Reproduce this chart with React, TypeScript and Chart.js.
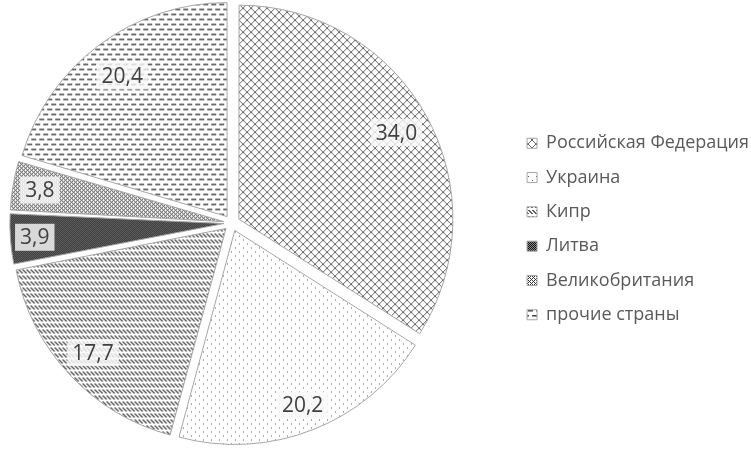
import React, { useEffect, useRef } from 'react';
import { Chart, registerables } from 'chart.js';

Chart.register(...registerables);

const categories = [
  'Российская Федерация',
  'Украина',
  'Кипр',
  'Литва',
  'Великобритания',
  'прочие страны',
];
const shares = [34.0, 20.2, 17.7, 3.9, 3.8, 20.4];

const labelRadius = [0.84, 0.875, 0.85, 0.886, 0.873, 0.82];

function makePattern(
  w: number,
  h: number,
  paint: (c: CanvasRenderingContext2D) => void,
  ground = '#ffffff'
): CanvasPattern {
  const cv = document.createElement('canvas');
  cv.width = w;
  cv.height = h;
  const c = cv.getContext('2d')!;
  c.fillStyle = ground;
  c.fillRect(0, 0, w, h);
  paint(c);
  return c.createPattern(cv, 'repeat')!;
}

function buildPatterns(): CanvasPattern[] {
  const crosshatch = makePattern(8, 8, (c) => {
    c.fillStyle = '#666666';
    for (let i = 0; i < 8; i++) {
      c.fillRect(i, i, 1, 1);
      c.fillRect(7 - i, i, 1, 1);
    }
  });
  const dots = makePattern(8, 8, (c) => {
    c.fillStyle = '#555555';
    c.fillRect(0, 0, 1, 1);
    c.fillRect(4, 4, 1, 1);
  });
  const dashedDiag = makePattern(4, 6, (c) => {
    c.fillStyle = '#5a5a5a';
    for (let r = 0; r < 4; r++) {
      c.fillRect(r, r, 1, 1);
      c.fillRect((r + 1) % 4, r, 1, 1);
    }
  });
  const checker = makePattern(
    2,
    2,
    (c) => {
      c.fillStyle = '#111111';
      c.fillRect(0, 0, 1, 1);
      c.fillRect(1, 1, 1, 1);
    },
    '#8c8c8c'
  );
  const confetti = makePattern(4, 4, (c) => {
    c.fillStyle = '#333333';
    c.fillRect(0, 0, 1, 1);
    c.fillRect(2, 0, 1, 1);
    c.fillRect(1, 1, 1, 1);
    c.fillRect(0, 2, 1, 1);
    c.fillRect(2, 2, 1, 1);
    c.fillRect(3, 3, 1, 1);
  });
  const dashes = makePattern(8, 10, (c) => {
    c.fillStyle = '#4a4a4a';
    c.fillRect(0, 0, 5, 1);
    c.fillRect(4, 5, 4, 1);
    c.fillRect(0, 5, 1, 1);
    c.fillStyle = '#9a9a9a';
    c.fillRect(0, 1, 5, 1);
    c.fillRect(4, 6, 4, 1);
    c.fillRect(0, 6, 1, 1);
  });
  return [crosshatch, dots, dashedDiag, checker, confetti, dashes];
}

// keep every exploded slice at the same radius (Chart.js enlarges thin slices)
const flatExplode = {
  id: 'flatExplode',
  beforeDatasetDraw(chart: any, args: any) {
    args.meta.data.forEach((arc: any) => {
      const off = (arc.options.offset || 0) / 4;
      const fix = 1 - Math.sin(Math.min(Math.PI, arc.circumference || 0));
      arc.$origR = arc.outerRadius;
      arc.outerRadius = arc.outerRadius - off * fix;
    });
  },
  afterDatasetDraw(chart: any, args: any) {
    args.meta.data.forEach((arc: any) => {
      if (arc.$origR !== undefined) arc.outerRadius = arc.$origR;
    });
  },
};

// layout nudges: pie sits left of the centre of its area, legend a bit lower/right
const layoutTweak = {
  id: 'layoutTweak',
  afterLayout(chart: any) {
    const a = chart.chartArea;
    a.left -= 39;
    a.width = a.right - a.left;
    const lg = chart.legend;
    if (lg) {
      lg.left += 8;
      lg.right += 8;
      lg.top += 6;
      lg.bottom += 6;
    }
  },
};

const valueLabels = {
  id: 'valueLabels',
  afterDatasetsDraw(chart: any) {
    const ctx: CanvasRenderingContext2D = chart.ctx;
    const meta = chart.getDatasetMeta(0);
    ctx.save();
    ctx.font = '21px "Open Sans"';
    ctx.textAlign = 'center';
    ctx.textBaseline = 'middle';
    meta.data.forEach((arc: any, i: number) => {
      const { x, y, startAngle, endAngle, outerRadius } = arc.getProps(
        ['x', 'y', 'startAngle', 'endAngle', 'outerRadius'],
        true
      );
      const shift = (arc.options.offset || 0) / 4;
      const a = (startAngle + endAngle) / 2;
      const d = shift + labelRadius[i] * outerRadius;
      const lx = x + Math.cos(a) * d;
      const ly = y + Math.sin(a) * d;
      const text = shares[i].toFixed(1).replace('.', ',');
      const tw = ctx.measureText(text).width;
      const bw = tw + 10;
      const bh = 27;
      ctx.fillStyle = 'rgba(248,248,248,0.82)';
      ctx.fillRect(lx - bw / 2, ly - bh / 2, bw, bh);
      ctx.fillStyle = '#404040';
      ctx.fillText(text, lx, ly + 1);
    });
    ctx.restore();
  },
};

export default function App() {
  const ref = useRef<HTMLCanvasElement | null>(null);

  useEffect(() => {
    if (!ref.current) return;
    const patterns = buildPatterns();
    const chart = new Chart(ref.current, {
      type: 'pie',
      data: {
        labels: categories,
        datasets: [
          {
            data: shares,
            backgroundColor: patterns,
            borderColor: '#a6a6a6',
            borderWidth: 1,
            offset: 32,
          },
        ],
      },
      options: {
        responsive: false,
        animation: false,
        radius: 214,
        layout: { padding: { left: 0, right: 0, top: 0, bottom: 3 } },
        plugins: {
          tooltip: { enabled: false },
          legend: {
            position: 'right',
            align: 'center',
            labels: {
              boxWidth: 10,
              boxHeight: 10,
              padding: 16.3,
              color: '#595959',
              font: { family: '"Open Sans"', size: 18 },
            },
          },
        },
      } as any,
      plugins: [layoutTweak, flatExplode, valueLabels],
    });
    return () => chart.destroy();
  }, []);

  return (
    <div style={{ position: 'absolute', left: 0, top: 0, width: 751, height: 449, background: '#fff' }}>
      <canvas ref={ref} width={751} height={449} style={{ display: 'block' }} />
    </div>
  );
}
